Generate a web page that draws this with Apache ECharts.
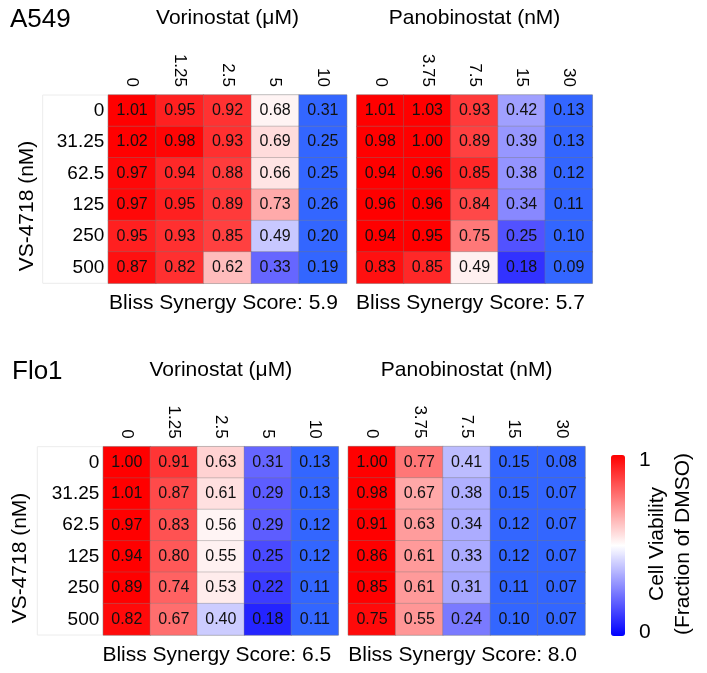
<!DOCTYPE html>
<html>
<head>
<meta charset="utf-8">
<script src="https://cdn.jsdelivr.net/npm/echarts@6/dist/echarts.min.js"></script>
<style>html,body{margin:0;padding:0;background:#fff}#c{width:707px;height:673px}</style>
</head>
<body>
<div id="c"></div>
<script>
// ---- data ----
const vorinostatDoses = ['0', '1.25', '2.5', '5', '10'];
const panobinostatDoses = ['0', '3.75', '7.5', '15', '30'];
const vsDoses = ['0', '31.25', '62.5', '125', '250', '500'];
const a549Vorinostat = [
  [1.01, 0.95, 0.92, 0.68, 0.31],
  [1.02, 0.98, 0.93, 0.69, 0.25],
  [0.97, 0.94, 0.88, 0.66, 0.25],
  [0.97, 0.95, 0.89, 0.73, 0.26],
  [0.95, 0.93, 0.85, 0.49, 0.20],
  [0.87, 0.82, 0.62, 0.33, 0.19]
];
const a549Panobinostat = [
  [1.01, 1.03, 0.93, 0.42, 0.13],
  [0.98, 1.00, 0.89, 0.39, 0.13],
  [0.94, 0.96, 0.85, 0.38, 0.12],
  [0.96, 0.96, 0.84, 0.34, 0.11],
  [0.94, 0.95, 0.75, 0.25, 0.10],
  [0.83, 0.85, 0.49, 0.18, 0.09]
];
const flo1Vorinostat = [
  [1.00, 0.91, 0.63, 0.31, 0.13],
  [1.01, 0.87, 0.61, 0.29, 0.13],
  [0.97, 0.83, 0.56, 0.29, 0.12],
  [0.94, 0.80, 0.55, 0.25, 0.12],
  [0.89, 0.74, 0.53, 0.22, 0.11],
  [0.82, 0.67, 0.40, 0.18, 0.11]
];
const flo1Panobinostat = [
  [1.00, 0.77, 0.41, 0.15, 0.08],
  [0.98, 0.67, 0.38, 0.15, 0.07],
  [0.91, 0.63, 0.34, 0.12, 0.07],
  [0.86, 0.61, 0.33, 0.12, 0.07],
  [0.85, 0.61, 0.31, 0.11, 0.07],
  [0.75, 0.55, 0.24, 0.10, 0.07]
];
const blissScores = [5.9, 5.7, 6.5, 8.0];
const cellLines = ['A549', 'Flo1'];
const drugTitles = ['Vorinostat (μM)', 'Panobinostat (nM)'];

// ---- styles ----
const FONT = 'Arial, "Liberation Sans", sans-serif';
const panelGrids = [
  {left: 108.3, top: 95, width: 238.4, height: 188.3},
  {left: 356.7, top: 95, width: 235.6, height: 188.3},
  {left: 103.3, top: 446.7, width: 235, height: 188.3},
  {left: 348.3, top: 446.5, width: 236.7, height: 188.5}
];
// per-panel colour ramps (value -> colour knots)
const panelRamps = [
  [[0,'#3366ff'],[0.315,'#3366ff'],[0.33,'#6666ff'],[0.49,'#c8c8ff'],[0.62,'#ffbcbc'],[0.66,'#ffe4e4'],[0.68,'#fff4f4'],[0.69,'#ffdcdc'],[0.73,'#ffaaaa'],[0.82,'#ff3030'],[0.85,'#ff4040'],[0.87,'#ff1010'],[0.88,'#ff3c3c'],[0.93,'#ff3030'],[0.95,'#ff2020'],[0.97,'#ff0808'],[1.0,'#ff0000'],[1.05,'#ff0000']],
  [[0,'#3366ff'],[0.14,'#3366ff'],[0.18,'#3232ff'],[0.25,'#5252ff'],[0.34,'#8888ff'],[0.42,'#a0a0ff'],[0.49,'#fff0f0'],[0.75,'#ff7878'],[0.83,'#ff1010'],[0.84,'#ff4848'],[0.85,'#ff2828'],[0.89,'#ff4040'],[0.93,'#ff3a3a'],[0.94,'#ff0000'],[1.05,'#ff0000']],
  [[0,'#3366ff'],[0.135,'#3366ff'],[0.18,'#2424ff'],[0.22,'#3c3cff'],[0.25,'#4a4aff'],[0.31,'#6666ff'],[0.40,'#ccccff'],[0.53,'#ffecec'],[0.56,'#fff4f4'],[0.61,'#ffe0e0'],[0.63,'#ffd2d2'],[0.67,'#ff6e6e'],[0.74,'#ff6262'],[0.80,'#ff5858'],[0.82,'#ff0a0a'],[0.83,'#ff5252'],[0.87,'#ff4a4a'],[0.89,'#ff0000'],[0.91,'#ff3535'],[0.94,'#ff0000'],[1.05,'#ff0000']],
  [[0,'#3366ff'],[0.155,'#3366ff'],[0.24,'#7a7aff'],[0.31,'#a8a8ff'],[0.34,'#acacff'],[0.38,'#b0b0ff'],[0.41,'#bcbcff'],[0.55,'#ff9696'],[0.61,'#ff9a9a'],[0.63,'#ff9c9c'],[0.67,'#ffa8a8'],[0.75,'#ff0a0a'],[0.77,'#ff7777'],[0.85,'#ff0000'],[1.05,'#ff0000']]
];

function hexToRgb(h){return [parseInt(h.slice(1,3),16),parseInt(h.slice(3,5),16),parseInt(h.slice(5,7),16)];}
function rgbToHex(c){return '#'+c.map(v=>Math.round(v).toString(16).padStart(2,'0')).join('');}
function ramp(knots, lo, hi, n){
  const out=[];
  for(let i=0;i<n;i++){
    const v = lo + (hi-lo)*i/(n-1);
    let k=0;
    while(k<knots.length-2 && v>knots[k+1][0]+1e-9) k++;
    const a=knots[k], b=knots[k+1];
    const t = Math.max(0, Math.min(1, (v-a[0])/(b[0]-a[0])));
    const ca=hexToRgb(a[1]), cb=hexToRgb(b[1]);
    out.push(rgbToHex(ca.map((x,j)=>x+(cb[j]-x)*t)));
  }
  return out;
}

const panels = [
  {values: a549Vorinostat, doses: vorinostatDoses, title: drugTitles[0]},
  {values: a549Panobinostat, doses: panobinostatDoses, title: drugTitles[1]},
  {values: flo1Vorinostat, doses: vorinostatDoses, title: drugTitles[0]},
  {values: flo1Panobinostat, doses: panobinostatDoses, title: drugTitles[1]}
];

const grids=[], xAxes=[], yAxes=[], series=[], visualMaps=[], graphics=[];
panels.forEach((p, i) => {
  grids.push(Object.assign({show:true, borderColor:'#c4c4c4', borderWidth:1, backgroundColor:'transparent'}, panelGrids[i]));
  xAxes.push({
    type:'category', gridIndex:i, position:'top', data:p.doses,
    axisLine:{show:false}, axisTick:{show:false}, splitLine:{show:false},
    axisLabel:{rotate:90, fontSize:17, margin:8, color:'#000', fontFamily:FONT},
    name:p.title, nameLocation:'middle', nameGap:66,
    nameTextStyle:{fontSize:21, color:'#000', fontFamily:FONT}
  });
  yAxes.push({
    type:'category', gridIndex:i, data:vsDoses, inverse:true,
    axisLine:{show:false}, axisTick:{show:false}, splitLine:{show:false},
    axisLabel:{show: i % 2 === 0, fontSize:19, margin:4, color:'#000', fontFamily:FONT}
  });
  const data=[];
  p.values.forEach((row, r) => row.forEach((v, c) => data.push([c, r, v])));
  series.push({
    type:'heatmap', xAxisIndex:i, yAxisIndex:i, data:data,
    itemStyle:{borderColor:'rgba(120,120,120,0.35)', borderWidth:1},
    label:{show:true, fontSize:16, color:'#111', fontFamily:FONT,
      formatter: q => q.value[2].toFixed(2)},
    emphasis:{disabled:true}
  });
  visualMaps.push({
    type:'continuous', show:false, seriesIndex:i, dimension:2, min:0, max:1.05,
    inRange:{color: ramp(panelRamps[i], 0, 1.05, 211)}
  });
  const g = panelGrids[i];
  graphics.push({type:'text', x:g.left + g.width/2 - 4, y: (i<2 ? 303 : 655),
    style:{text:'Bliss Synergy Score: ' + blissScores[i].toFixed(1), font:'21px ' + FONT, fill:'#000', textAlign:'center', textVerticalAlign:'middle'}});
});
// colour legend (shared scale)
series.push({type:'heatmap', xAxisIndex:3, yAxisIndex:3, data:[]});
visualMaps.push({
  type:'continuous', show:true, seriesIndex:4, min:0, max:1, orient:'vertical',
  left:596, top:440, itemWidth:14, itemHeight:181, calculable:false, text:null,
  inRange:{color:['#0000ff','#ffffff','#ff0000']}
});

// white label boxes
graphics.unshift(
  {type:'rect', shape:{x:42.7, y:95, width:65.6, height:188.3}, style:{fill:'#fff', stroke:'#ececec', lineWidth:1}, z:-1},
  {type:'rect', shape:{x:37.3, y:446.7, width:66, height:188.3}, style:{fill:'#fff', stroke:'#ececec', lineWidth:1}, z:-1}
);
graphics.push(
  {type:'text', x:10, y:20, style:{text:cellLines[0], font:'26px ' + FONT, fill:'#000', textVerticalAlign:'middle'}},
  {type:'text', x:12, y:372, style:{text:cellLines[1], font:'26px ' + FONT, fill:'#000', textVerticalAlign:'middle'}},
  {type:'text', x:27, y:206, rotation:Math.PI/2, style:{text:'VS-4718 (nM)', font:'21px ' + FONT, fill:'#000', textAlign:'center', textVerticalAlign:'middle'}},
  {type:'text', x:20, y:558, rotation:Math.PI/2, style:{text:'VS-4718 (nM)', font:'21px ' + FONT, fill:'#000', textAlign:'center', textVerticalAlign:'middle'}},
  {type:'text', x:639, y:460, style:{text:'1', font:'21px ' + FONT, fill:'#000', textVerticalAlign:'middle'}},
  {type:'text', x:639, y:632, style:{text:'0', font:'21px ' + FONT, fill:'#000', textVerticalAlign:'middle'}},
  {type:'text', x:657, y:544, rotation:Math.PI/2, style:{text:'Cell Viability', font:'21px ' + FONT, fill:'#000', textAlign:'center', textVerticalAlign:'middle'}},
  {type:'text', x:683, y:544, rotation:Math.PI/2, style:{text:'(Fraction of DMSO)', font:'21px ' + FONT, fill:'#000', textAlign:'center', textVerticalAlign:'middle'}}
);

const chart = echarts.init(document.getElementById('c'), null, {renderer:'canvas'});
chart.setOption({
  animation:false,
  backgroundColor:'#fff',
  textStyle:{fontFamily:FONT},
  grid:grids, xAxis:xAxes, yAxis:yAxes, series:series, visualMap:visualMaps,
  graphic:graphics
});
</script>
</body>
</html>
